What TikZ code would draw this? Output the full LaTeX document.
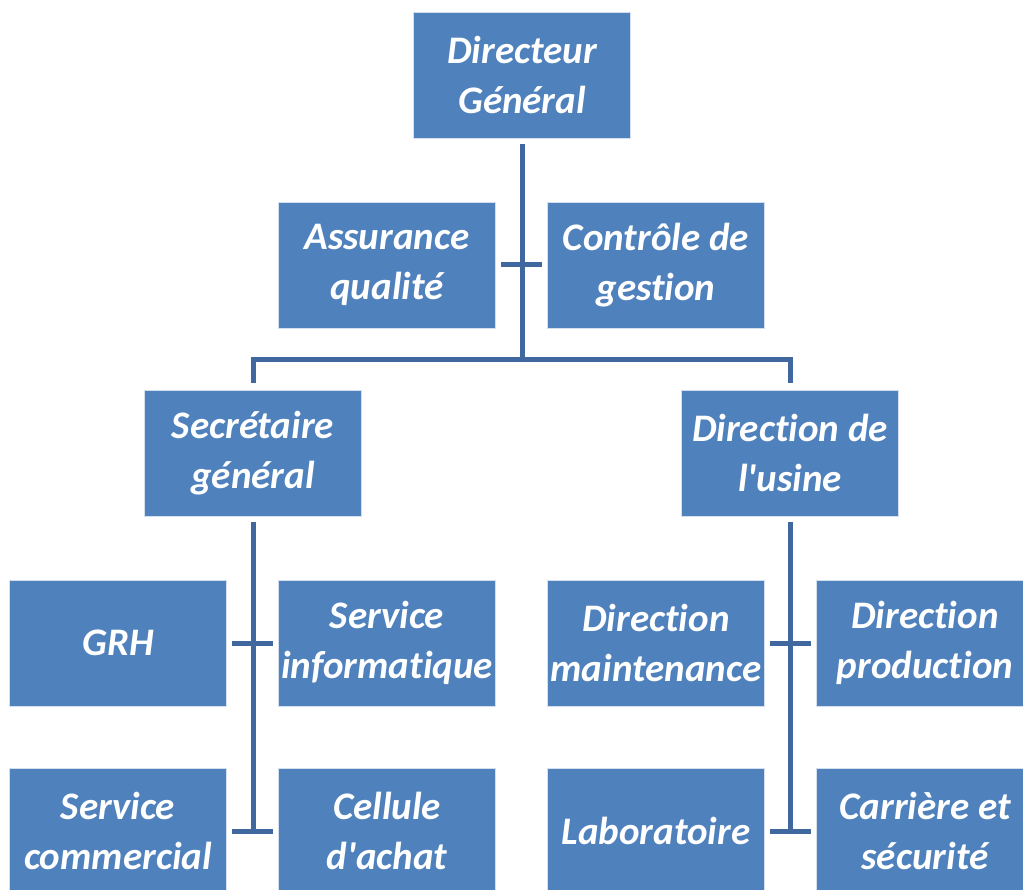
\documentclass[tikz,border=0pt]{standalone}
\usepackage{fontspec}
\setmainfont{Carlito}[Ligatures={NoCommon},Contextuals={NoAlternate}]
\definecolor{boxblue}{RGB}{79,129,189}
\definecolor{lineblue}{RGB}{64,104,158}
\begin{document}
\begin{tikzpicture}[x=1pt,y=-1pt,
		unit/.style={rectangle,fill=boxblue,draw=white!75!boxblue,line width=0.8pt,
			text=white,minimum width=217pt,minimum height=126pt,inner sep=0pt,
			align=center,font=\fontsize{39}{50}\selectfont\bfseries\itshape},
		link/.style={draw=lineblue,line width=5pt}]
		\useasboundingbox (0,0) rectangle (1023,890);

		\node[unit] (dg) at (522,75) {Directeur\\Général};
		\node[unit] (aq) at (387,265) {Assurance\\qualité};
		\node[unit] (cg) at (656,265) {Contrôle de\\gestion};
		\node[unit] (sg) at (253,453) {Secrétaire\\général};
		\node[unit] (du) at (790,453) {Direction de\\l\textquotesingle usine};

		\node[unit] (grh) at (118,643) {GRH};
		\node[unit] (si) at (387,643) {Service\\informatique};
		\node[unit] (sc) at (118,831) {Service\\commercial};
		\node[unit] (ca) at (387,831) {Cellule\\d\textquotesingle achat};

		\node[unit] (dm) at (656,643) {Direction\\maintenance};
		\node[unit] (dp) at (925,643) {Direction\\production};
		\node[unit] (lab) at (656,831) {Laboratoire};
		\node[unit] (cs) at (925,831) {Carrière et\\sécurité};

		\coordinate (top) at (522,360);
		\coordinate (left) at (253,360);
		\coordinate (right) at (790,360);
		\coordinate (sgend) at (253,833.5);
		\coordinate (duend) at (790,833.5);

		\draw[link] ([yshift=-6pt]dg.south) -- (top);
		\draw[link] ([yshift=7pt]sg.north) -- (left) -- (right) -- ([yshift=7pt]du.north);
		\draw[link] ([yshift=-6pt]sg.south) -- (sgend);
		\draw[link] ([yshift=-6pt]du.south) -- (duend);

		\foreach \a/\b in {aq/cg,grh/si,sc/ca,dm/dp,lab/cs}
		\draw[link,shorten <=5pt,shorten >=5pt] (\a.east) -- (\b.west);
	\end{tikzpicture}
\end{document}
